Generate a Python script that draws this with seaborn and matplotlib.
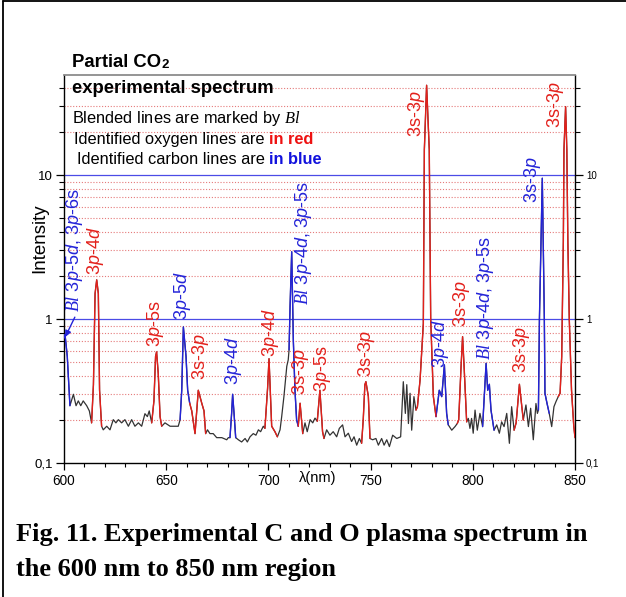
import matplotlib
matplotlib.use("Agg")
import matplotlib.pyplot as plt
import numpy as np
import pandas as pd
import seaborn as sns
from matplotlib.lines import Line2D
from matplotlib.ticker import FixedLocator, FuncFormatter, MultipleLocator

# ---- spectrum (wavelength in nm, intensity in arbitrary units) ----
wavelength = [
    600.0, 600.5, 601.6, 602.9, 604.6, 605.9, 607.0, 608.2, 609.4, 611.1,
    612.4, 613.5, 614.4, 615.2, 616.0, 616.8, 617.4, 618.4, 619.2, 620.9,
    622.5, 624.1, 625.4, 626.6, 628.2, 629.8, 631.5, 633.1, 634.7, 636.4,
    638.0, 639.6, 640.8, 641.7, 642.9, 644.0, 644.8, 645.3, 646.1, 647.0,
    647.8, 649.4, 651.9, 654.3, 655.9, 656.8, 657.6, 658.4, 659.7, 660.5,
    661.5, 662.5, 664.1, 665.7, 667.4, 668.5, 669.3, 670.2, 671.4, 673.0,
    674.7, 677.2, 679.6, 680.4, 681.2, 682.0, 682.5, 683.2, 684.0, 685.3,
    686.9, 688.6, 689.7, 691.0, 692.6, 693.9, 695.1, 696.2, 697.5, 698.3,
    699.6, 700.3, 701.0, 701.6, 703.2, 704.4, 705.7, 706.5, 707.6, 709.0,
    709.7, 710.1, 710.6, 711.4, 712.2, 713.0, 713.8, 714.6, 715.5, 716.8,
    717.9, 719.0, 720.4, 721.7, 722.8, 723.9, 725.2, 726.5, 727.2, 728.5,
    730.1, 731.7, 733.4, 734.7, 736.3, 737.5, 739.1, 740.7, 741.9, 743.2,
    744.5, 745.6, 746.4, 747.2, 747.7, 748.9, 749.7, 751.0, 752.6, 753.8,
    755.4, 756.6, 757.9, 759.2, 760.8, 762.8, 764.7, 766.0, 767.0, 767.7,
    768.5, 769.3, 770.1, 771.2, 772.2, 772.9, 774.2, 775.8, 776.3, 777.4,
    778.7, 779.4, 780.7, 782.0, 783.6, 784.8, 786.1, 787.2, 788.0, 789.7,
    791.3, 792.4, 793.1, 794.2, 795.0, 795.8, 797.0, 797.8, 798.6, 799.4,
    800.2, 801.1, 802.2, 803.5, 804.8, 806.5, 807.3, 808.1, 808.9, 810.4,
    811.7, 813.0, 814.1, 815.3, 816.6, 817.9, 819.0, 820.2, 821.2, 822.8,
    823.8, 824.7, 826.0, 827.2, 828.3, 829.6, 830.9, 831.6, 832.1, 832.6,
    834.0, 835.0, 835.3, 836.3, 837.4, 838.6, 839.7, 840.7, 841.8, 842.7,
    843.5, 844.3, 844.6, 845.4, 846.0, 846.5, 847.2, 848.3, 849.4, 850.0,
]
intensity = [
    0.74, 0.78, 0.55, 0.25, 0.30, 0.25, 0.27, 0.25, 0.27, 0.25,
    0.23, 0.19, 0.35, 1.5, 1.87, 1.5, 0.32, 0.18, 0.17, 0.18,
    0.17, 0.20, 0.19, 0.20, 0.19, 0.20, 0.18, 0.20, 0.18, 0.19,
    0.18, 0.22, 0.21, 0.23, 0.19, 0.27, 0.55, 0.59, 0.42, 0.21,
    0.18, 0.19, 0.18, 0.18, 0.18, 0.20, 0.32, 0.88, 0.55, 0.32,
    0.26, 0.23, 0.16, 0.32, 0.26, 0.23, 0.16, 0.17, 0.16, 0.16,
    0.15, 0.15, 0.145, 0.15, 0.15, 0.22, 0.30, 0.22, 0.15, 0.145,
    0.14, 0.148, 0.14, 0.152, 0.16, 0.156, 0.17, 0.165, 0.18, 0.174,
    0.33, 0.53, 0.30, 0.18, 0.165, 0.152, 0.17, 0.21, 0.29, 0.47,
    0.52, 0.61, 1.22, 2.93, 0.71, 0.32, 0.20, 0.18, 0.26, 0.16,
    0.19, 0.165, 0.20, 0.19, 0.205, 0.195, 0.32, 0.165, 0.148, 0.17,
    0.156, 0.165, 0.152, 0.174, 0.184, 0.152, 0.161, 0.141, 0.152, 0.133,
    0.148, 0.137, 0.20, 0.35, 0.367, 0.29, 0.148, 0.145, 0.148, 0.133,
    0.148, 0.133, 0.145, 0.13, 0.156, 0.148, 0.152, 0.367, 0.221, 0.35,
    0.188, 0.305, 0.169, 0.289, 0.233, 0.246, 0.377, 0.93, 15.0, 42.0,
    15.0, 1.0, 0.29, 0.21, 0.32, 0.289, 0.48, 0.221, 0.184, 0.169,
    0.179, 0.188, 0.199, 0.45, 0.754, 0.45, 0.193, 0.204, 0.174, 0.204,
    0.161, 0.233, 0.169, 0.221, 0.179, 0.492, 0.32, 0.352, 0.233, 0.169,
    0.184, 0.161, 0.193, 0.179, 0.221, 0.137, 0.246, 0.169, 0.19, 0.352,
    0.26, 0.199, 0.253, 0.179, 0.24, 0.145, 0.259, 0.221, 0.233, 1.0,
    9.5, 1.0, 0.305, 0.26, 0.221, 0.179, 0.246, 0.267, 0.289, 0.305,
    0.55, 3.5, 15.0, 29.8, 15.0, 3.5, 1.0, 0.32, 0.18, 0.15,
]

# wavelength ranges assigned to identified lines
carbon_bands = [(600.0, 602.9), (656.8, 661.5), (681.2, 684.0), (710.1, 714.6),
                (782.0, 788.0), (804.8, 810.4), (832.1, 837.4)]
oxygen_bands = [(613.5, 618.4), (642.9, 647.8), (661.5, 669.3), (698.3, 704.4),
                (714.6, 716.8), (723.9, 727.2), (745.6, 749.7), (772.2, 782.0),
                (792.4, 797.0), (820.2, 824.7), (841.8, 850.0)]

# transition labels: text, wavelength, intensity at label foot, element
BL = r"$\mathcal{Bl}$ "
P, D = r"$\mathit{p}$", r"$\mathit{d}$"
line_labels = [
    (BL + f"3{P}-5{D}, 3{P}-6s", 604.9, 1.12, "C"),
    (f"3{P}-4{D}", 615.2, 2.02, "O"),
    (f"3{P}-5s", 645.0, 0.64, "O"),
    (f"3{P}-5{D}", 658.2, 0.98, "C"),
    (f"3s-3{P}", 667.0, 0.377, "O"),
    (f"3{P}-4{D}", 682.7, 0.348, "C"),
    (f"3{P}-4{D}", 700.8, 0.545, "O"),
    (BL + f"3{P}-4{D}, 3{P}-5s", 717.4, 1.25, "C"),
    (f"3s-3{P}", 715.6, 0.297, "O"),
    (f"3{P}-5s", 726.6, 0.311, "O"),
    (f"3s-3{P}", 748.2, 0.395, "O"),
    (f"3s-3{P}", 772.7, 18.4, "O"),
    (f"3{P}-4{D}", 784.4, 0.457, "C"),
    (f"3s-3{P}", 794.7, 0.88, "O"),
    (BL + f"3{P}-4{D}, 3{P}-5s", 806.0, 0.519, "C"),
    (f"3s-3{P}", 823.6, 0.422, "O"),
    (f"3s-3{P}", 829.0, 6.39, "C"),
    (f"3s-3{P}", 840.7, 21.2, "O"),
]

RED = "#e3201b"
BLUE = "#2323d8"
GRAY = "#333333"
colors = {"C": BLUE, "O": RED}

sns.set_theme(style="white")
plt.rcParams["font.family"] = ["Liberation Sans", "DejaVu Sans"]
plt.rcParams["mathtext.fontset"] = "custom"
plt.rcParams["mathtext.rm"] = "Liberation Sans"
plt.rcParams["mathtext.it"] = "Liberation Sans:italic"
plt.rcParams["mathtext.bf"] = "Liberation Sans:bold"
plt.rcParams["mathtext.cal"] = "Liberation Serif:italic"
for key in ["text.color", "axes.labelcolor", "xtick.color", "ytick.color"]:
    plt.rcParams[key] = "black"

W, H = 626, 597
fig = plt.figure(figsize=(W / 100, H / 100), dpi=100)
fig.patch.set_facecolor("white")
ax = fig.add_axes([64 / W, 1 - 463 / H, (575 - 64) / W, (463 - 75) / H])

df = pd.DataFrame({"wavelength": wavelength, "intensity": intensity})

# reference grid: dotted red at minor decades, solid blue at 1 and 10
minor_levels = [0.2, 0.3, 0.4, 0.5, 0.6, 0.7, 0.8, 0.9,
                2, 3, 4, 5, 6, 7, 8, 9, 20, 30, 40]
for v in minor_levels:
    ax.axhline(v, color="#e57a7a", lw=0.8, ls=(0, (1, 1.6)), zorder=1)
for v in [1, 10]:
    ax.axhline(v, color="#4b4be6", lw=0.9, zorder=1)

sns.lineplot(data=df, x="wavelength", y="intensity", color=GRAY, lw=0.9,
             estimator=None, sort=False, ax=ax, zorder=3)
for bands, col in [(carbon_bands, BLUE), (oxygen_bands, RED)]:
    for lo, hi in bands:
        seg = df[(df.wavelength >= lo) & (df.wavelength <= hi)]
        sns.lineplot(data=seg, x="wavelength", y="intensity", color=col,
                     lw=1.0, estimator=None, sort=False, ax=ax, zorder=4)

ax.set_yscale("log")
ax.set_xlim(600, 850)
ax.set_ylim(0.1, 49.5)
ax.set_xlabel("")
ax.set_ylabel("")

for text, wl, base, el in line_labels:
    ax.text(wl, base, text, rotation=90, ha="center", va="bottom",
            color=colors[el], fontsize=13, zorder=5)

ax.annotate("", xy=(600.6, 0.75), xytext=(605.3, 1.03),
            arrowprops=dict(arrowstyle="-|>", color=BLUE, lw=1.0,
                            mutation_scale=9, shrinkA=0, shrinkB=0),
            zorder=5)

# axes, ticks
ax.xaxis.set_major_locator(MultipleLocator(50))
ax.xaxis.set_minor_locator(MultipleLocator(10))
ax.yaxis.set_major_locator(FixedLocator([0.1, 1, 10]))
ax.yaxis.set_minor_locator(FixedLocator(minor_levels))
ax.yaxis.set_major_formatter(FuncFormatter(
    lambda v, _: {0.1: "0,1", 1: "1", 10: "10"}.get(round(v, 3), "")))
ax.yaxis.set_minor_formatter(FuncFormatter(lambda v, _: ""))
ax.tick_params(axis="x", which="major", bottom=True, direction="out",
               length=5, width=0.9, color="black", labelsize=9.8, pad=3)
ax.tick_params(axis="x", which="minor", bottom=True, direction="out",
               length=3, width=0.8, color="black")
ax.tick_params(axis="y", which="major", left=True, right=True,
               labelleft=True, labelright=True, direction="out",
               length=6, width=0.9, color="black", labelsize=9.5, pad=2)
ax.tick_params(axis="y", which="minor", left=True, right=True,
               direction="out", length=3.5, width=0.8, color="black")
for t in ax.yaxis.get_major_ticks():
    t.label2.set_fontsize(7)
for s in ["left", "right", "bottom"]:
    ax.spines[s].set_color("black")
    ax.spines[s].set_linewidth(1.0)
ax.spines["top"].set_color("#8c8c8c")
ax.spines["top"].set_linewidth(1.3)

fig.text(318 / W, 1 - 478 / H, "λ(nm)", ha="center", va="center", fontsize=10.5)
fig.text(40 / W, 1 - 238 / H, "Intensity", rotation=90, ha="center",
         va="center", fontsize=13.5)

# header block
t = fig.text(72 / W, 1 - 67 / H, "Partial CO", fontsize=13.3,
             fontweight="bold", va="baseline")
ax.annotate("2", xy=(1, 0), xycoords=t, va="bottom", ha="left",
            fontsize=9.5, fontweight="bold", annotation_clip=False)
fig.text(72 / W, 1 - 93 / H, "experimental spectrum", fontsize=13.3,
         fontweight="bold", va="baseline")
fig.text(72 / W, 1 - 123 / H, "Blended lines are marked by " + r"$\mathcal{Bl}$",
         fontsize=11.8, va="baseline")
t = fig.text(74 / W, 1 - 144 / H, "Identified oxygen lines are ",
             fontsize=11.8, va="baseline")
ax.annotate("in red", xy=(1, 0), xycoords=t, va="bottom", ha="left",
            fontsize=11.8, fontweight="bold", color="#ee1111",
            annotation_clip=False)
t = fig.text(77 / W, 1 - 164 / H, "Identified carbon lines are ",
             fontsize=11.8, va="baseline")
ax.annotate("in blue", xy=(1, 0), xycoords=t, va="bottom", ha="left",
            fontsize=11.8, fontweight="bold", color="#1111dd",
            annotation_clip=False)

# caption
cap_font = ["Liberation Serif", "DejaVu Serif"]
fig.text(16 / W, 1 - 541 / H, "Fig. 11. Experimental C and O plasma spectrum in",
         family=cap_font, fontweight="bold", fontsize=19, va="baseline")
fig.text(16 / W, 1 - 576 / H, "the 600 nm to 850 nm region",
         family=cap_font, fontweight="bold", fontsize=19, va="baseline")

# page frame
fig.add_artist(Line2D([3 / W, 3 / W], [0, 1 - 1 / H], transform=fig.transFigure,
                      color="black", lw=1.3))
fig.add_artist(Line2D([3 / W, 1], [1 - 1 / H, 1 - 1 / H], transform=fig.transFigure,
                      color="black", lw=1.3))

fig.savefig("out.png", dpi=100, facecolor="white")
